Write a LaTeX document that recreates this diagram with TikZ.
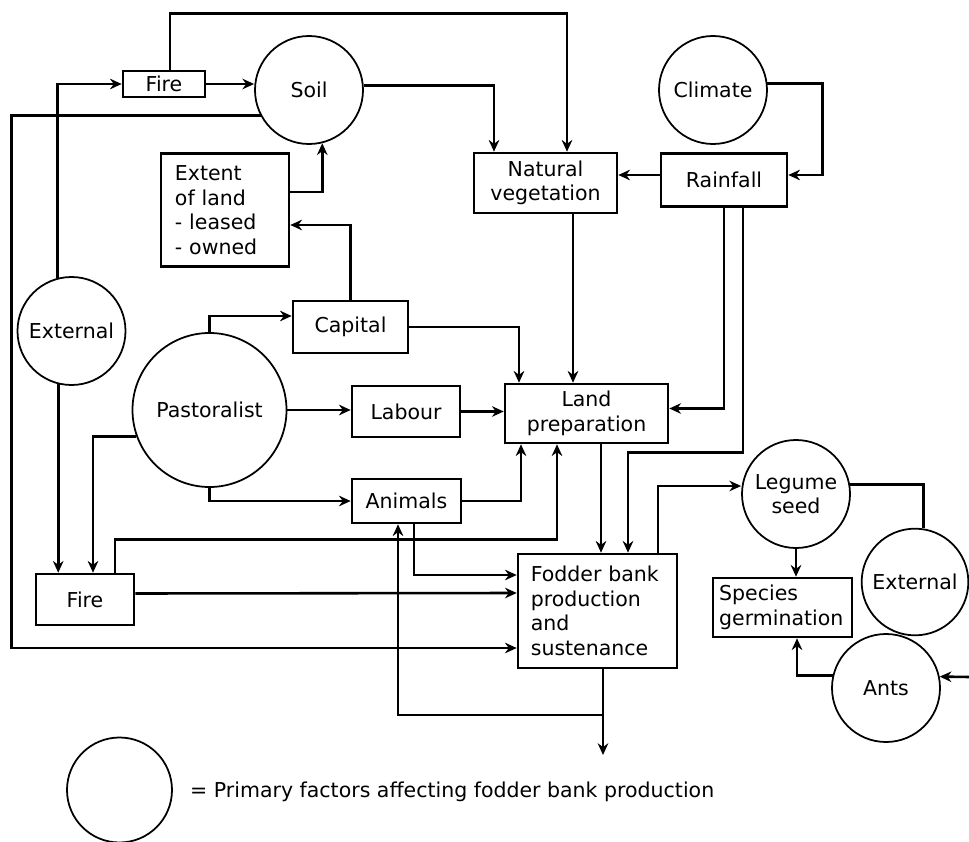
\documentclass[tikz,border=0pt]{standalone}
\usepackage{fontspec}
\setmainfont{DejaVu Sans}
\usetikzlibrary{arrows.meta,calc}
\tikzset{
  fac/.style={draw, circle, line width=1.5pt, minimum size=3.24cm,
              inner sep=0pt, align=center},
  blk/.style={draw, line width=2.2pt, inner sep=2pt, align=center},
  lblk/.style={blk, align=left},
  arr/.style={line width=2.2pt, -{Stealth[length=10pt,width=9pt]}},
  ln/.style={line width=2.2pt},
}
\begin{document}
\begin{tikzpicture}[x=0.03cm, y=-0.03cm, font=\fontsize{17.5}{21}\selectfont]
    \useasboundingbox (0,0) rectangle (969,842);
    \node[blk, minimum width=2.46cm, minimum height=0.78cm] (fireT) at (164,84) {Fire};
    \node[fac] (soil) at (309,90) {Soil};
    \node[lblk, text width=3.0cm, inner xsep=0.42cm, minimum height=3.39cm] (extent) at (225,210) {Extent\\of land\\- leased\\- owned};
    \node[blk, minimum width=4.29cm, minimum height=1.8cm] (natveg) at (545.5,183) {Natural\\vegetation};
    \node[fac] (climate) at (713,90) {Climate};
    \node[blk, minimum width=3.78cm, minimum height=1.59cm] (rain) at (724,180) {Rainfall};
    \node[fac] (extL) at (71.5,331) {External};
    \node[blk, minimum width=3.45cm, minimum height=1.56cm] (capital) at (350.5,327) {Capital};
    \node[fac, minimum size=4.62cm] (past) at (209.5,410) {Pastoralist};
    \node[blk, minimum width=3.24cm, minimum height=1.53cm] (labour) at (406,411.5) {Labour};
    \node[blk, minimum width=4.89cm, minimum height=1.77cm] (landprep) at (586.5,413.5) {Land\\preparation};
    \node[blk, minimum width=3.27cm, minimum height=1.32cm] (animals) at (406.5,501) {Animals};
    \node[blk, minimum width=2.94cm, minimum height=1.53cm] (fireB) at (85,599.5) {Fire};
    \node[lblk, text width=4.0cm, inner xsep=0.385cm, minimum height=3.42cm] (fodder) at (597.5,611) {Fodder bank\\production\\and\\sustenance};
    \node[fac] (legume) at (796,494) {Legume\\seed};
    \node[lblk, text width=3.8cm, inner xsep=0.185cm, minimum height=1.77cm] (species) at (782.5,607.5) {Species\\germination};
    \node[fac, minimum size=3.2cm] (extR) at (915,582) {External};
    \node[fac] (ants) at (886,688) {Ants};
    \node[fac, minimum size=3.15cm] (key) at (119.5,790) {};
    \node[anchor=west, inner sep=0pt] (keytxt) at (190,792) {= Primary factors affecting fodder bank production};
    \coordinate (out) at (603,755);
    \coordinate (loop) at (603,715);
    \coordinate (edge) at (969,677);

    \draw[arr] ($(fireT.north)+(6,0)$) -- ++(0,-56) -| ($(natveg.north)+(21.5,0)$);
    \draw[arr] (soil.5) -| ($(natveg.north)+(-51.5,0)$);
    \draw[arr] (climate.7) -- ++(55,0) |- ($(rain.east)+(0,-5)$);
    \draw[arr] ($(rain.west)+(0,-5)$) -- ($(natveg.east)+(0,-8)$);
    \draw[arr] (rain.south) |- ($(landprep.east)+(0,-5)$);
    \draw[arr] ($(rain.south)+(19,0)$) -- ++(0,244.5) -| ($(fodder.north)+(30.5,0)$);
    \draw[arr] ($(natveg.south)+(27.5,0)$) -- ($(landprep.north)+(-13.5,0)$);
    \draw[arr] (soil.208) -- ++(-249,0) |- ($(fodder.west)+(0,37)$);
    \draw[arr] (extL.105) |- (fireT.west);
    \draw[arr] (fireT.east) -- (fireT.east -| soil.west);
    \draw[arr] ($(extent.east)+(0,-18)$) -| (soil.-76);
    \draw[arr] (capital.north) |- ($(extent.east)+(0,15)$);
    \draw[arr] (past.north) |- ($(capital.west)+(0,-11)$);
    \draw[arr] (capital.east) -| ($(landprep.north)+(-67.5,0)$);
    \draw[arr] (past.east) -- (past.east -| labour.west);
    \draw[arr] (labour.east) -- (labour.east -| landprep.west);
    \draw[arr] (past.200) -| ($(fireB.north)+(8,0)$);
    \draw[arr] (past.south) |- (animals.west);
    \draw[arr] (extL.256) -- (extL.256 |- fireB.north);
    \draw[arr] ($(fireB.north)+(30,0)$) -- ++(0,-33) -| ($(landprep.south)+(-29.5,0)$);
    \draw[arr] (animals.east) -| ($(landprep.south)+(-65.5,0)$);
    \draw[arr] ($(animals.south)+(7.5,0)$) |- ($(fodder.west)+(0,-36)$);
    \draw[arr] ($(fireB.east)+(0,-6)$) -- ($(fodder.west)+(0,-18)$);
    \draw[arr] ($(landprep.south)+(14.5,0)$) -- ($(fodder.north)+(3.5,0)$);
    \draw[arr] ($(fodder.south)+(5.5,0)$) -- (out);
    \draw[arr] (loop) -| ($(animals.south)+(-8.5,0)$);
    \draw[arr] ($(fodder.north)+(60.5,0)$) |- ($(legume.west)+(0,-8)$);
    \draw[ln] (legume.10) -| (extR.81);
    \draw[arr] (legume.south) -- (legume.south |- species.north);
    \draw[arr] (ants.167) -| ($(species.south)+(14.5,0)$);
    \draw[arr] (edge) -- (ants.12);
  \end{tikzpicture}
\end{document}
